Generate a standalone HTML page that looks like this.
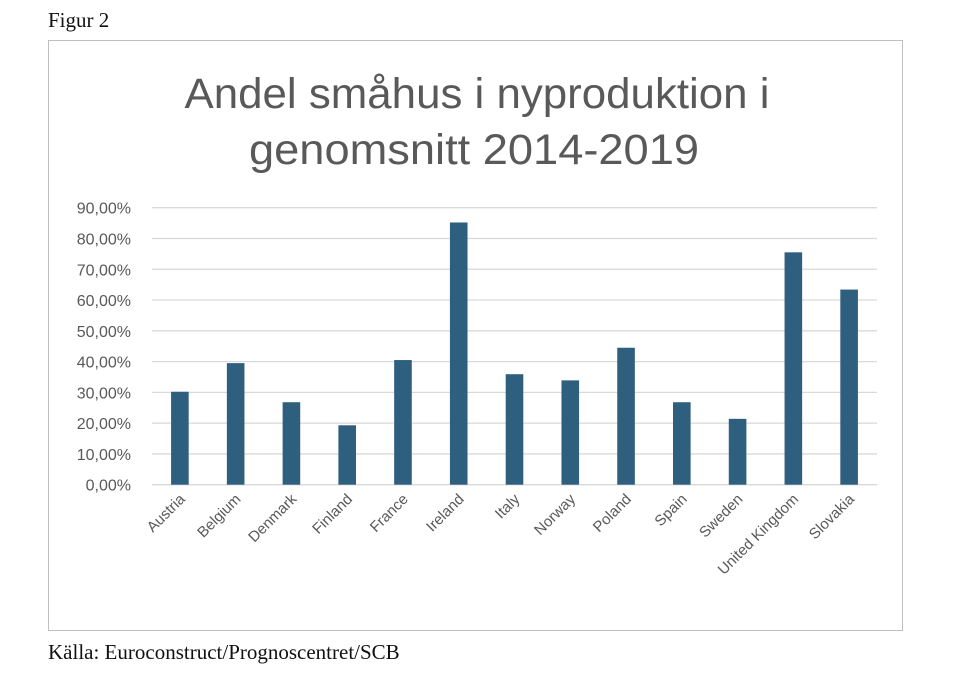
<!DOCTYPE html>
<html><head><meta charset="utf-8"><style>
body{margin:0;width:980px;height:674px;background:#fff;position:relative;overflow:hidden}
.serif{font-family:"Liberation Serif",serif;font-size:21px;color:#111;position:absolute}
</style></head><body>
<div class="serif" style="left:48px;top:8px">Figur 2</div>
<div style="position:absolute;left:48px;top:40px;width:855px;height:591px;border:1px solid #bfbfbf;box-sizing:border-box"></div>
<svg id="c" width="980" height="674" style="position:absolute;left:0;top:0">
<text x="477" y="108" text-anchor="middle" font-family="Liberation Sans,sans-serif" font-size="43" fill="#595959" textLength="585" lengthAdjust="spacingAndGlyphs">Andel småhus i nyproduktion i</text>
<text x="474" y="164" text-anchor="middle" font-family="Liberation Sans,sans-serif" font-size="43" fill="#595959" textLength="450" lengthAdjust="spacingAndGlyphs">genomsnitt  2014-2019</text>
</svg>
<div class="serif" style="left:48px;top:640px">Källa: Euroconstruct/Prognoscentret/SCB</div>
<script>
const categories=["Austria","Belgium","Denmark","Finland","France","Ireland","Italy","Norway","Poland","Spain","Sweden","United Kingdom","Slovakia"];
const values=[30.2,39.5,26.8,19.3,40.5,85.2,35.9,33.9,44.5,26.8,21.4,75.5,63.4];
const yTicks=[0,10,20,30,40,50,60,70,80,90];
const yTickLabels=["0,00%","10,00%","20,00%","30,00%","40,00%","50,00%","60,00%","70,00%","80,00%","90,00%"];
const svg=document.getElementById('c'),NS="http://www.w3.org/2000/svg";
const x0=152,x1=877,y0=484.7,y90=207.7;
const y=v=>y0-(v/90)*(y0-y90);
const step=(x1-x0)/categories.length;
const xc=i=>x0+step*(i+0.5);
function mk(t,a){const e=document.createElementNS(NS,t);for(const k in a)e.setAttribute(k,a[k]);svg.appendChild(e);return e;}
yTicks.forEach((t,i)=>{
 const g=mk('line',{x1:x0,x2:x1,y1:y(t),y2:y(t),stroke:'#d9d9d9','stroke-width':1.3});
 
 
 const l=mk('text',{x:131,y:y(t)+6,'text-anchor':'end','font-family':'Liberation Sans,sans-serif','font-size':16,fill:'#595959'});
 l.textContent=yTickLabels[i];
 
 
});
values.forEach((v,i)=>{
 const b=mk('rect',{x:xc(i)-8.8,y:y(v),width:17.6,height:y0-y(v),fill:'#2e5f7f'});
 
 
 const t=mk('text',{x:xc(i)+6,y:500,'text-anchor':'end','font-family':'Liberation Sans,sans-serif','font-size':15,fill:'#595959',transform:`rotate(-45 ${xc(i)+6} 500)`});
 t.textContent=categories[i];
 
 
});
</script>
</body></html>
